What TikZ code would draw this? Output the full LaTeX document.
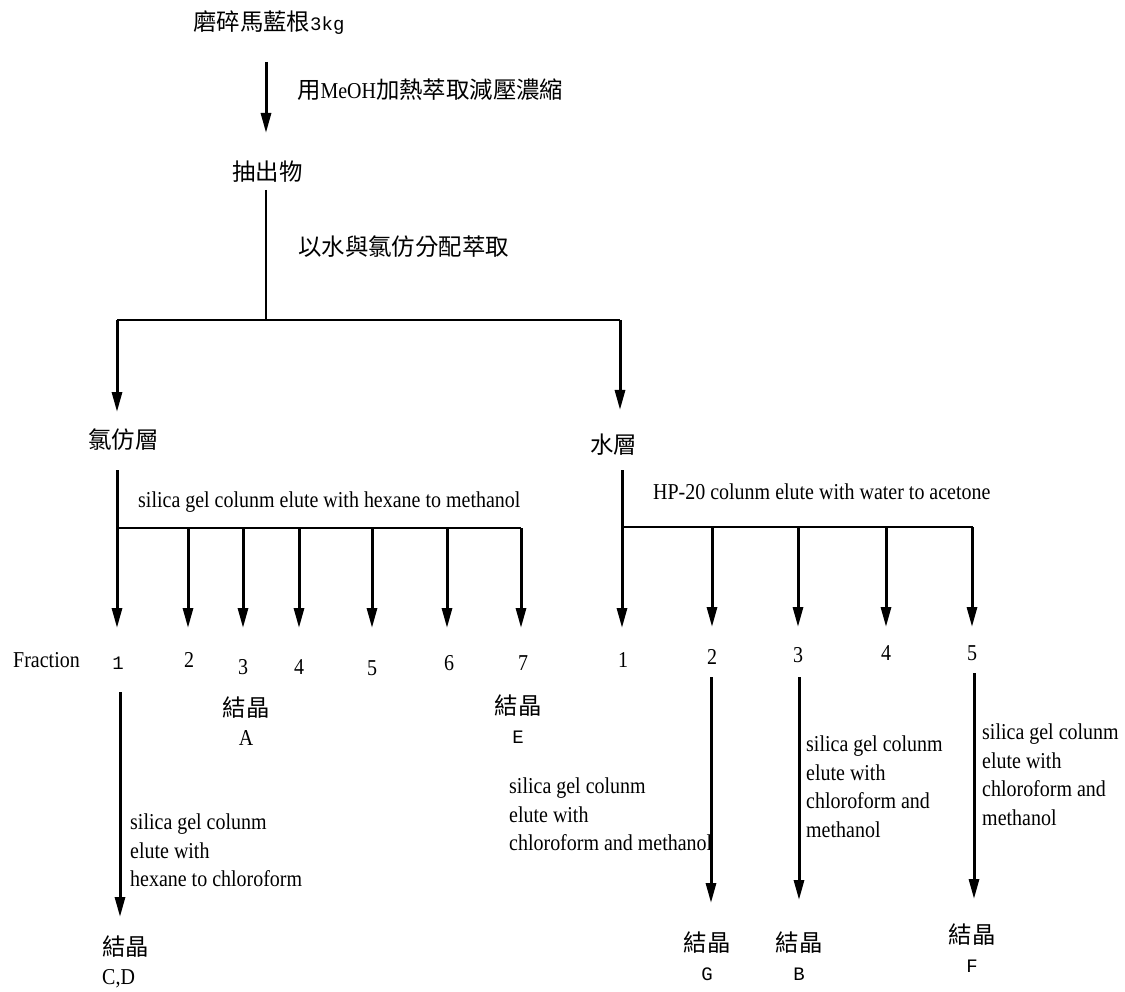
\documentclass[tikz,border=0pt]{standalone}
\usepackage{fontspec}
\setmainfont{Liberation Serif}[FakeStretch=0.88]
\setmonofont{Liberation Mono}
\newfontfamily\cjk{Noto Sans CJK TC}
\usetikzlibrary{arrows.meta,positioning}
\newcommand{\zh}[1]{{\cjk\fontsize{23.4}{28}\selectfont #1}}
\newcommand{\mono}[1]{{\ttfamily\fontsize{19}{28}\selectfont #1}}
\tikzset{
  flow/.style={-{Triangle[length=20pt,width=10pt]},line width=3pt},
  stem/.style={line width=1.6pt},
  bar/.style={line width=2.6pt},
  txt/.style={inner sep=0pt,font=\fontsize{22.7}{28.5}\selectfont},
}

\begin{document}
\begin{tikzpicture}[x=1pt,y=-1pt]
  \useasboundingbox (0,0) rectangle (1125,992);
  % raw material and extraction
  \node[txt,anchor=west] (raw) at (193,23) {\zh{磨碎馬藍根}\mono{3kg}};
  \node[txt,anchor=west] (meoh) at (297,90) {\zh{用}MeOH\zh{加熱萃取減壓濃縮}};
  \node[txt,anchor=west] (ext) at (232,172) {\zh{抽出物}};
  \coordinate (rawout) at (266,62);
  \coordinate (extin) at (266,133);
  \draw[flow] (rawout) -- (extin);
  % partition
  \coordinate (extout) at (266,190);
  \coordinate (split) at (266,320);
  \coordinate (splitL) at (117,320);
  \coordinate (splitR) at (620,320);
  \node[txt,anchor=west] (part) at (298,247) {\zh{以水與氯仿分配萃取}};
  \draw[stem] (extout) -- (split);
  \draw[bar] (splitL) -- (splitR);
  \draw[flow] (splitL) -- ++(0,92);
  \draw[flow] (splitR) -- ++(0,90);
  \node[txt,anchor=west] (chl) at (88,440) {\zh{氯仿層}};
  \node[txt,anchor=west] (wat) at (590,445) {\zh{水層}};

  % chloroform layer column
  \node[txt,anchor=west] (colL) at (138,502) {silica gel colunm elute with hexane to methanol};
  \coordinate (chlout) at (117,470);
  \coordinate (barL) at (117,528);
  \draw[bar] (barL) -- (521,528);
  \draw[flow] (chlout) -- (117,628);
  \foreach \x in {188,243,299,372,447,521}
    \draw[flow] (\x,528) -- (\x,628);
  \node[txt,anchor=west] (frac) at (13,660) {Fraction};
  \node[txt] (fL1) at (118,663) {\mono{1}};
  \foreach \n/\x/\y in {2/189/660,3/243/667,4/299/667,5/372/668,6/449/663,7/523/663}
    \node[txt] (fL\n) at (\x,\y) {\n};
  \node[txt,align=center] (xA) at (246,721) {\zh{結晶}\\A};
  \node[txt,align=center] (xE) at (518,719) {\zh{結晶}\\\mono{E}};
  \draw[flow] (120,692) -- (120,917);
  \node[txt,align=left,anchor=north west] (lL1) at (130,814)
    {silica gel colunm\\elute with\\hexane to chloroform};
  \node[txt,align=left,anchor=west] (xCD) at (102,962) {\zh{結晶}\\C,D};

  % water layer column
  \node[txt,anchor=west] (colR) at (653,492) {HP-20 colunm elute with water to acetone};
  \coordinate (watout) at (622,470);
  \coordinate (barR) at (622,527);
  \draw[bar] (barR) -- (973,527);
  \draw[flow] (watout) -- (622,628);
  \foreach \x in {712,798,886,972}
    \draw[flow] (\x,527) -- (\x,627);
  \foreach \n/\x/\y in {1/623/660,2/712/657,3/798/655,4/886/653,5/972/653}
    \node[txt] (fR\n) at (\x,\y) {\n};
  \draw[flow] (711,677) -- (711,903);
  \draw[flow] (799,677) -- (799,900);
  \draw[flow] (974,673) -- (974,899);
  \node[txt,align=left,anchor=north west] (lR2) at (509,778)
    {silica gel colunm\\elute with\\chloroform and methanol};
  \node[txt,align=left,anchor=north west] (lR3) at (806,736)
    {silica gel colunm\\elute with\\chloroform and\\methanol};
  \node[txt,align=left,anchor=north west] (lR5) at (982,724)
    {silica gel colunm\\elute with\\chloroform and\\methanol};
  \node[txt,align=center] (xG) at (707,956) {\zh{結晶}\\\mono{G}};
  \node[txt,align=center] (xB) at (799,956) {\zh{結晶}\\\mono{B}};
  \node[txt,align=center] (xF) at (972,948) {\zh{結晶}\\\mono{F}};
\end{tikzpicture}
\end{document}
